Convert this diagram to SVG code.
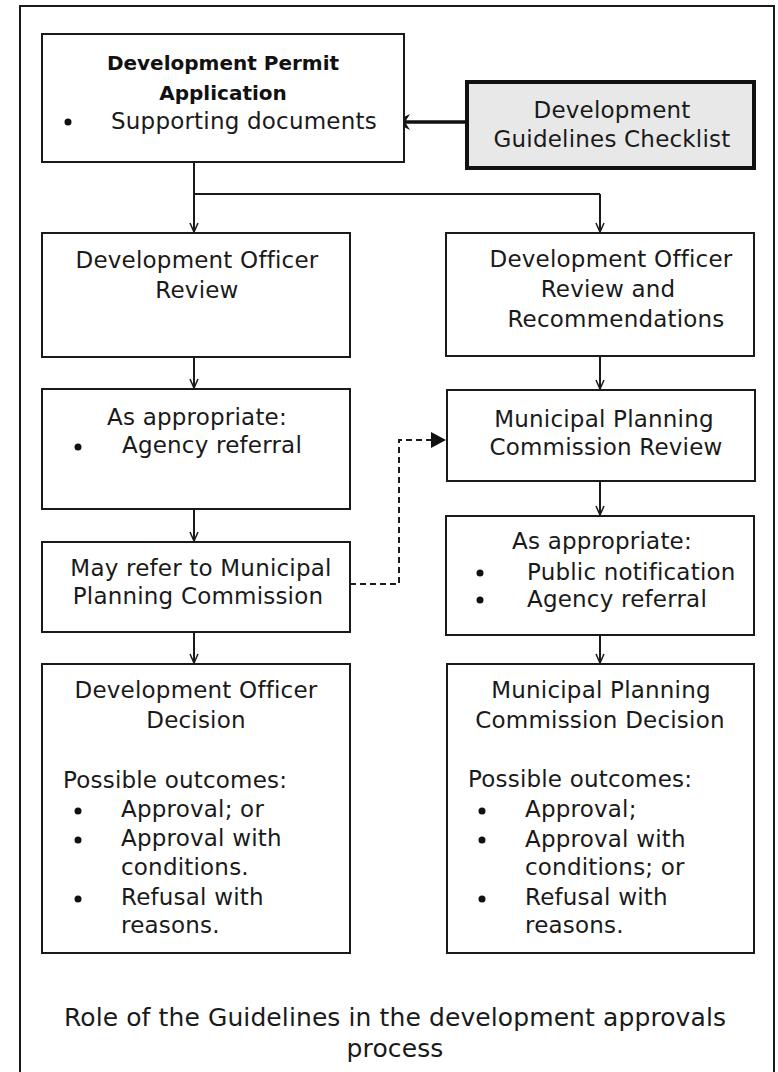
<svg xmlns="http://www.w3.org/2000/svg" width="778" height="1072" viewBox="0 0 778 1072">
<defs>
<style>
.box{fill:#ffffff;stroke:#1a1a1a;stroke-width:2}
.gbox{fill:#e8e8e8;stroke:#111;stroke-width:4}
.t{font-family:"DejaVu Sans","Liberation Sans",sans-serif;font-size:23px;letter-spacing:0.2px;fill:#1a1a1a}
.c{text-anchor:middle}
.b{font-family:"DejaVu Sans","Liberation Sans",sans-serif;font-size:20px;font-weight:bold;fill:#111;text-anchor:middle}
.cap{font-family:"DejaVu Sans","Liberation Sans",sans-serif;font-size:25px;letter-spacing:0.1px;fill:#1a1a1a;text-anchor:middle}
.ln{fill:none;stroke:#1a1a1a;stroke-width:2}
.dash{fill:none;stroke:#1a1a1a;stroke-width:2;stroke-dasharray:6 4}
.dot{fill:#111}
</style>
<marker id="arr" viewBox="0 0 10 10" refX="10" refY="5" markerWidth="10" markerHeight="10" markerUnits="userSpaceOnUse" orient="auto">
<path d="M1,1 L10,5 L1,9" fill="none" stroke="#1a1a1a" stroke-width="1.5"/>
</marker>
<marker id="tri" viewBox="0 0 16 16" refX="15" refY="8" markerWidth="16" markerHeight="16" markerUnits="userSpaceOnUse" orient="auto">
<path d="M0,0 L15,8 L0,16 Z" fill="#111"/>
</marker>
</defs>
<rect x="20" y="6" width="754" height="1080" fill="#ffffff" stroke="#1a1a1a" stroke-width="2"/>

<g id="connectors">
<path class="ln" d="M194,162 V194 H600"/>
<path class="ln" d="M194,194 V232" marker-end="url(#arr)"/>
<path class="ln" d="M600,194 V232" marker-end="url(#arr)"/>
<path class="ln" d="M194,357 V388" marker-end="url(#arr)"/>
<path class="ln" d="M194,509 V541" marker-end="url(#arr)"/>
<path class="ln" d="M194,632 V663" marker-end="url(#arr)"/>
<path class="ln" d="M600,356 V389" marker-end="url(#arr)"/>
<path class="ln" d="M600,481 V515" marker-end="url(#arr)"/>
<path class="ln" d="M600,635 V663" marker-end="url(#arr)"/>
<path class="dash" d="M350,584 H399 V440 H446" marker-end="url(#tri)"/>
<path d="M465,122 H404" fill="none" stroke="#111" stroke-width="3.5"/>
<path d="M394,122 L410,114 L405,122 L410,130 Z" fill="#111"/>
</g>

<g id="permit-application">
<rect class="box" x="42" y="34" width="362" height="128"/>
<text class="b" x="223" y="70">Development Permit</text>
<text class="b" x="223" y="100">Application</text>
<circle class="dot" cx="68" cy="122" r="3.5"/>
<text class="t" x="111" y="129">Supporting documents</text>
</g>

<g id="guidelines-checklist">
<rect class="gbox" x="467" y="82" width="287" height="86"/>
<text class="t c" x="612" y="118">Development</text>
<text class="t c" x="612" y="147">Guidelines Checklist</text>
</g>

<g id="do-review">
<rect class="box" x="42" y="233" width="308" height="124"/>
<text class="t c" x="197" y="268">Development Officer</text>
<text class="t c" x="197" y="298">Review</text>
</g>

<g id="do-review-recommendations">
<rect class="box" x="446" y="233" width="308" height="123"/>
<text class="t c" x="611" y="267">Development Officer</text>
<text class="t c" x="608" y="297">Review and</text>
<text class="t c" x="616" y="327">Recommendations</text>
</g>

<g id="as-appropriate-left">
<rect class="box" x="42" y="389" width="308" height="120"/>
<text class="t c" x="197" y="425">As appropriate:</text>
<circle class="dot" cx="78" cy="447" r="3.5"/>
<text class="t" x="122" y="453">Agency referral</text>
</g>

<g id="mpc-review">
<rect class="box" x="447" y="390" width="308" height="91"/>
<text class="t c" x="604" y="427">Municipal Planning</text>
<text class="t c" x="606" y="455">Commission Review</text>
</g>

<g id="may-refer">
<rect class="box" x="42" y="542" width="308" height="90"/>
<text class="t c" x="201" y="576">May refer to Municipal</text>
<text class="t c" x="198" y="604">Planning Commission</text>
</g>

<g id="as-appropriate-right">
<rect class="box" x="446" y="516" width="308" height="119"/>
<text class="t c" x="602" y="549">As appropriate:</text>
<circle class="dot" cx="480" cy="573" r="3.5"/>
<text class="t" x="527" y="580">Public notification</text>
<circle class="dot" cx="480" cy="600" r="3.5"/>
<text class="t" x="527" y="607">Agency referral</text>
</g>

<g id="do-decision">
<rect class="box" x="42" y="664" width="308" height="289"/>
<text class="t c" x="196" y="698">Development Officer</text>
<text class="t c" x="196" y="728">Decision</text>
<text class="t" x="63" y="788">Possible outcomes:</text>
<circle class="dot" cx="78" cy="811" r="3.5"/>
<text class="t" x="121" y="817">Approval; or</text>
<circle class="dot" cx="78" cy="840" r="3.5"/>
<text class="t" x="121" y="846">Approval with</text>
<text class="t" x="121" y="875">conditions.</text>
<circle class="dot" cx="78" cy="899" r="3.5"/>
<text class="t" x="121" y="905">Refusal with</text>
<text class="t" x="121" y="933">reasons.</text>
</g>

<g id="mpc-decision">
<rect class="box" x="447" y="664" width="307" height="289"/>
<text class="t c" x="601" y="698">Municipal Planning</text>
<text class="t c" x="600" y="728">Commission Decision</text>
<text class="t" x="468" y="787">Possible outcomes:</text>
<circle class="dot" cx="482" cy="811" r="3.5"/>
<text class="t" x="525" y="817">Approval;</text>
<circle class="dot" cx="482" cy="840" r="3.5"/>
<text class="t" x="525" y="847">Approval with</text>
<text class="t" x="525" y="875">conditions; or</text>
<circle class="dot" cx="482" cy="899" r="3.5"/>
<text class="t" x="525" y="905">Refusal with</text>
<text class="t" x="525" y="933">reasons.</text>
</g>

<g id="caption">
<text class="cap" x="395" y="1026">Role of the Guidelines in the development approvals</text>
<text class="cap" x="395" y="1057">process</text>
</g>
</svg>
